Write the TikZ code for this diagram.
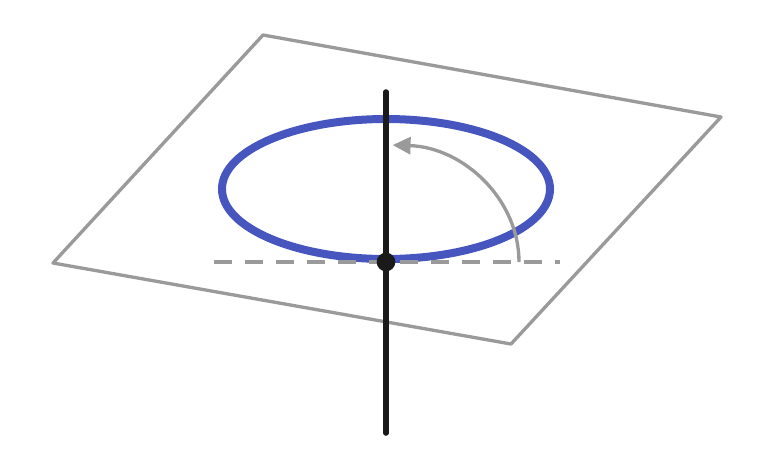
\documentclass[tikz,border=0pt]{standalone}
\usetikzlibrary{arrows.meta}
\definecolor{planegray}{HTML}{9A9A9A}
\definecolor{loopblue}{HTML}{4755BF}
\definecolor{axisblack}{HTML}{1A1A1A}

\begin{document}
\begin{tikzpicture}[x=0.75pt,y=-0.75pt]
\tikzstyle{plane}=[draw=planegray,line width=2.5pt,line join=round]
\tikzstyle{loop}=[draw=loopblue,line width=6pt]
\tikzstyle{axis}=[draw=axisblack,line width=4.2pt,line cap=round]
\tikzstyle{dashline}=[draw=planegray,line width=3pt,dash pattern=on 13.5pt off 9.75pt]
\tikzstyle{turn}=[draw=planegray,line width=2.5pt,-{Triangle[length=13.5pt,width=12.75pt]}]
\tikzstyle{pin}=[circle,fill=axisblack,inner sep=0pt,minimum size=14pt]
\useasboundingbox (0,0) rectangle (773,469);
\coordinate (back) at (263,35);
\coordinate (right) at (721,117);
\coordinate (front) at (511,344);
\coordinate (left) at (53,263);
\coordinate (top) at (386,92);
\coordinate (bottom) at (386,433);
\coordinate (dashstart) at (214,262);
\coordinate (dashend) at (560,262);
\coordinate (turnstart) at (519,262);
\draw[plane] (back) -- (right) -- (front) -- (left) -- cycle;
\draw[loop] (386,189) ellipse [x radius=164, y radius=70];
\draw[axis] (top) -- (bottom);
\draw[dashline] (dashstart) -- (dashend);
\draw[turn] (turnstart) arc[start angle=0, end angle=-88, x radius=131, y radius=117];
\node[pin] (origin) at (386,262) {};
\end{tikzpicture}
\end{document}
